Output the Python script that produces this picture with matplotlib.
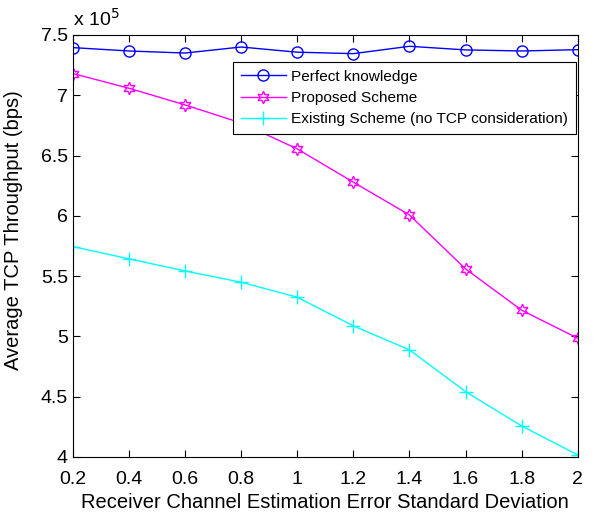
import matplotlib
matplotlib.use("Agg")
import matplotlib.pyplot as plt

plt.rcParams['font.family'] = ['Liberation Sans', 'DejaVu Sans']

sigma = [0.2, 0.4, 0.6, 0.8, 1.0, 1.2, 1.4, 1.6, 1.8, 2.0]
# throughput in units of 1e5 bps
perfect = [7.395, 7.367, 7.350, 7.400, 7.357, 7.345, 7.406, 7.376, 7.367, 7.378]
proposed = [7.180, 7.058, 6.920, 6.770, 6.555, 6.279, 6.007, 5.560, 5.217, 4.985]
existing = [5.745, 5.643, 5.543, 5.449, 5.325, 5.087, 4.888, 4.542, 4.257, 4.017]

fig = plt.figure(figsize=(6.12, 5.14), dpi=100)
ax = fig.add_axes([0.119, 0.111, 0.825, 0.821])

ax.plot(sigma, perfect, color='#0000ff', marker='o', markersize=8,
        markerfacecolor='none', linewidth=1, label='Perfect knowledge')
ax.plot(sigma, proposed, color='#ff00ff', marker=(6, 1, 0), markersize=9,
        markerfacecolor='none', linewidth=1, label='Proposed Scheme')
ax.plot(sigma, existing, color='#00ffff', marker='+', markersize=10,
        linewidth=1, label='Existing Scheme (no TCP consideration)')

ax.set_xlim(0.2, 2.0)
ax.set_ylim(4, 7.5)
ax.set_xticks(sigma)
ax.set_xticklabels(['0.2', '0.4', '0.6', '0.8', '1', '1.2', '1.4', '1.6', '1.8', '2'])
ax.set_yticks([4, 4.5, 5, 5.5, 6, 6.5, 7, 7.5])
ax.set_yticklabels(['4', '4.5', '5', '5.5', '6', '6.5', '7', '7.5'])
ax.tick_params(direction='in', top=True, right=True, labelsize=14, length=5)
ax.tick_params(axis='x', pad=10)

ax.set_xlabel('Receiver Channel Estimation Error Standard Deviation', fontsize=14.5, labelpad=4)
ax.set_ylabel('Average TCP Throughput (bps)', fontsize=14.5)
ax.yaxis.set_label_coords(-0.098, 0.538)
ax.text(0.0, 1.012, r'x 10$^5$', transform=ax.transAxes, fontsize=14, va='bottom')

leg = ax.legend(loc='upper right', bbox_to_anchor=(0.996, 0.936), borderaxespad=0,
                fontsize=11.1, fancybox=False, edgecolor='black', framealpha=1,
                handlelength=2.9, handletextpad=0.35, borderpad=0.5,
                labelspacing=0.48)
leg.get_frame().set_linewidth(0.8)

fig.savefig('out.png', dpi=100)
